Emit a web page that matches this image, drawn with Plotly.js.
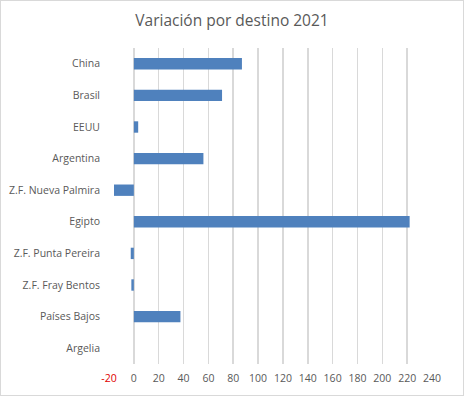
<!DOCTYPE html>
<html><head><meta charset="utf-8">
<script src="https://cdn.plot.ly/plotly-3.0.1.min.js"></script>
<style>html,body{margin:0;padding:0;background:#fff}#wrap{width:462px;height:394px;border:1px solid #d9d9d9;}#chart{width:462px;height:394px}</style>
</head><body><div id="wrap"><div id="chart"></div></div>
<script>
const categories = ["China","Brasil","EEUU","Argentina","Z.F. Nueva Palmira","Egipto","Z.F. Punta Pereira","Z.F. Fray Bentos","Países Bajos","Argelia"];
const values = [87, 71, 3.5, 56, -16, 222, -2.5, -2, 37.5, 0];
const tickVals = [-20,0,20,40,60,80,100,120,140,160,180,200,220,240];
const tickText = tickVals.map(v => v < 0 ? '<span style="color:#e00000">' + v + '</span>' : String(v));

Plotly.newPlot('chart', [{
  type: 'bar', orientation: 'h', x: values, y: categories,
  marker: {color: '#4f81bd'}, width: 0.36, hoverinfo: 'x+y'
}], {
  width: 462, height: 394,
  margin: {l: 108, r: 31, t: 47, b: 31},
  paper_bgcolor: '#fff', plot_bgcolor: '#fff',
  title: {text: 'Variación por destino 2021', x: 0.5, xanchor: 'center', y: 0.95, yanchor: 'middle',
          font: {family: 'Open Sans, sans-serif', size: 15.5, color: '#595959'}},
  xaxis: {range: [-20, 240], tickvals: tickVals, ticktext: tickText, showgrid: true,
          gridcolor: '#d9d9d9', gridwidth: 1.5, zeroline: false, showline: false, ticks: '',
          ticklabelstandoff: 6, fixedrange: true,
          tickfont: {family: 'Open Sans, sans-serif', size: 10.5, color: '#595959'}},
  yaxis: {autorange: 'reversed', type: 'category', showgrid: false, zeroline: false, showline: false,
          ticks: '', ticklabelstandoff: 8, fixedrange: true,
          tickfont: {family: 'Open Sans, sans-serif', size: 10.5, color: '#595959'}},
  showlegend: false
}, {displayModeBar: false, staticPlot: true});
</script></body></html>
